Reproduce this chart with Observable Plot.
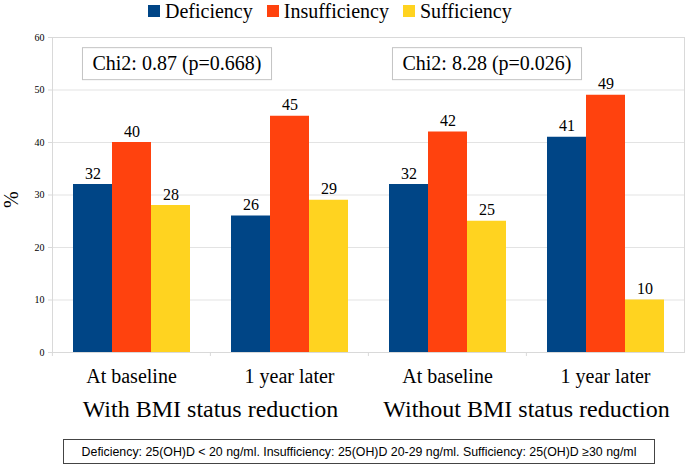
<!DOCTYPE html>
<html><head><meta charset="utf-8">
<script src="https://cdn.jsdelivr.net/npm/d3@7"></script>
<script src="https://cdn.jsdelivr.net/npm/@observablehq/plot@0.6"></script>
<style>
body{margin:0;background:#fff;}
#wrap{position:relative;width:685px;height:465px;overflow:hidden;font-family:"Liberation Serif",serif;color:#000;}
#legend{position:absolute;left:148px;top:0;height:22px;display:flex;align-items:center;font-size:20px;line-height:22px;}
#legend .item{display:flex;align-items:center;margin-right:14px;}
#legend .sw{width:12px;height:12px;margin-right:5px;}
#chart{position:absolute;left:0;top:0;}
#chart svg text{font-family:"Liberation Serif",serif;}
#caption{position:absolute;left:63px;top:439px;width:590px;height:23px;border:1px solid #444;font-family:"Liberation Sans",sans-serif;display:flex;align-items:center;justify-content:center;white-space:nowrap;background:#fff;}
</style>
</head><body>
<div id="wrap">
  <div id="chart"></div>
  <div id="legend"></div>
  <div id="caption"></div>
</div>
<script>
// ---- data ----
const groups = ["With BMI status reduction", "Without BMI status reduction"];
const periods = ["At baseline", "1 year later"];
const series = ["Deficiency", "Insufficiency", "Sufficiency"];
const colors = ["#004586", "#ff420e", "#ffd320"];
const deficiency = [32, 26, 32, 41];
const insufficiency = [40, 45, 42, 49];
const sufficiency = [28, 29, 25, 10];
const chiLabels = ["Chi2: 0.87 (p=0.668)", "Chi2: 8.28 (p=0.026)"];
const chiLevel = 55;
const yTicks = [0, 10, 20, 30, 40, 50, 60];
const yLabel = "%";
const captionText = "Deficiency: 25(OH)D < 20 ng/ml. Insufficiency: 25(OH)D 20-29 ng/ml. Sufficiency: 25(OH)D \u226530 ng/ml";

// ---- tables ----
const facetKeys = groups.flatMap(g => periods.map(p => g + "|" + p));
const seriesValues = [deficiency, insufficiency, sufficiency];
const rows = facetKeys.flatMap((k, i) => series.map((s, j) => ({key: k, series: s, value: seriesValues[j][i]})));
const groupRows = groups.map(g => ({key: g + "|" + periods[0], group: g}));
const chiRows = chiLabels.map((c, i) => ({key: groups[i] + "|" + periods[0], series: series[2], y: chiLevel, label: c}));

const W = 685, H = 437, ML = 51, MR = 1, MT = 37, MB = 85;
const step = (W - ML - MR) / facetKeys.length;
const serif = "'Liberation Serif', serif";

const chart = Plot.plot({
  width: W, height: H,
  marginLeft: ML, marginRight: MR, marginTop: MT, marginBottom: MB,
  style: {fontFamily: serif, background: "transparent", color: "#000", overflow: "visible"},
  fx: {domain: facetKeys, padding: 0, label: null, axis: null},
  x: {domain: series, paddingInner: 0, paddingOuter: 0.5, axis: null},
  y: {domain: [0, 60], axis: null},
  color: {domain: series, range: colors},
  marks: [
    Plot.gridY(yTicks.slice(1, -1), {stroke: "#e3e3e3", strokeOpacity: 1}),
    Plot.frame({facet: "super", stroke: "#d9d9d9"}),
    Plot.axisY(yTicks, {tickSize: 4, tickPadding: 4, fontSize: 10, stroke: "#d9d9d9", fill: "#000", label: null, fontFamily: serif}),
    Plot.text([yLabel], {facet: "super", frameAnchor: "left", dx: -41, dy: 13, rotate: -90, fontSize: 20, fill: "#000", fontFamily: serif}),
    Plot.axisFx({anchor: "bottom", tickSize: 4, tickFormat: () => "", label: null, dx: -step / 2, stroke: "#d9d9d9"}),
    Plot.axisFx({anchor: "bottom", tickSize: 0, tickPadding: 16, fontSize: 20, fill: "#000", fontFamily: serif, tickFormat: d => d.split("|")[1], label: null}),
    Plot.barY(rows, {fx: "key", x: "series", y: "value", fill: "series"}),
    Plot.text(rows, {fx: "key", x: "series", y: "value", text: d => String(d.value), dy: -11, fontSize: 16, fill: "#000", fontFamily: serif}),
    Plot.text(groupRows, {fx: "key", frameAnchor: "bottom-right", textAnchor: "middle", lineAnchor: "middle", dy: 57, text: "group", fontSize: 24, fill: "#000", fontFamily: serif}),
    Plot.text(chiRows.slice(0, 1), {fx: "key", x: "series", y: "y", dx: 6, text: "label", fontSize: 20, fill: "#000", fontFamily: serif}),
    Plot.text(chiRows.slice(1), {fx: "key", x: "series", y: "y", text: "label", fontSize: 20, fill: "#000", fontFamily: serif})
  ]
});
document.getElementById("chart").appendChild(chart);

// boxes around the chi-square annotations
d3.select(chart).selectAll("text").filter(function() { return chiLabels.includes(this.textContent); }).each(function() {
  const b = this.getBBox();
  const r = document.createElementNS("http://www.w3.org/2000/svg", "rect");
  r.setAttribute("x", b.x - 10);
  r.setAttribute("y", b.y + b.height / 2 - 16);
  r.setAttribute("width", b.width + 20);
  r.setAttribute("height", 32);
  r.setAttribute("fill", "#fff");
  r.setAttribute("stroke", "#c4c4c4");
  const t = this.getAttribute("transform");
  if (t) r.setAttribute("transform", t);
  this.parentNode.insertBefore(r, this);
});

// legend
const legend = document.getElementById("legend");
series.forEach((s, i) => {
  const item = document.createElement("span"); item.className = "item";
  const sw = document.createElement("span"); sw.className = "sw"; sw.style.background = colors[i];
  const tx = document.createElement("span"); tx.textContent = s;
  item.appendChild(sw); item.appendChild(tx); legend.appendChild(item);
});

// caption sized to the reference width
const cap = document.getElementById("caption");
const ctx = document.createElement("canvas").getContext("2d");
ctx.font = "100px 'Liberation Sans'";
const w100 = ctx.measureText(captionText).width;
cap.style.fontSize = (555 / w100 * 100).toFixed(2) + "px";
cap.textContent = captionText;
</script>
</body></html>
